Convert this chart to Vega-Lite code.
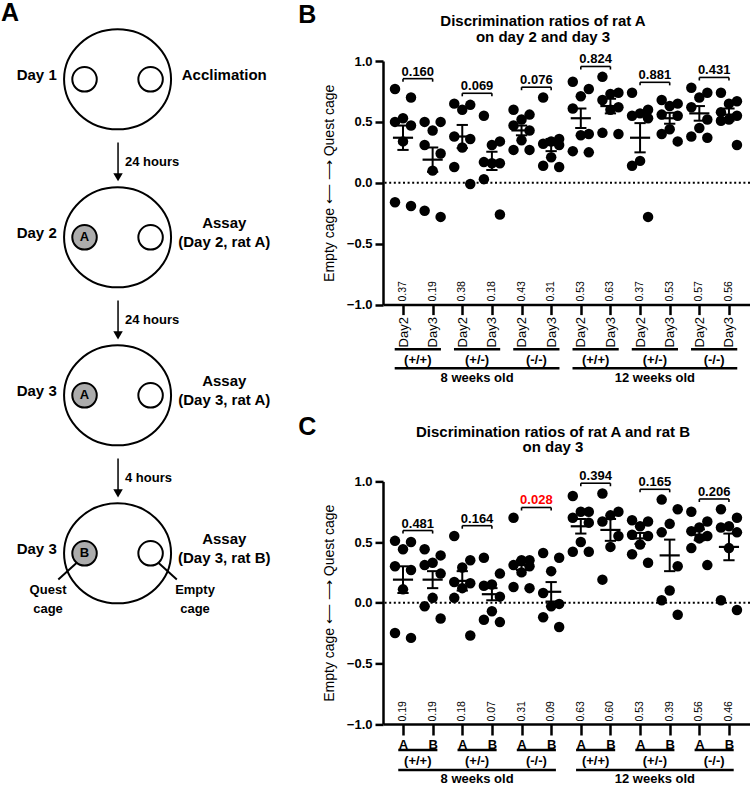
{
"$schema": "https://vega.github.io/schema/vega-lite/v6.json",
"padding": {"left": 0, "top": 1, "right": 0, "bottom": 0},
"config": {
  "font": "Liberation Sans",
  "view": {"stroke": null},
  "axis": {"domainColor": "#000", "tickColor": "#000", "labelColor": "#000", "titleColor": "#000", "grid": false, "labelOverlap": false},
  "title": {"color": "#000", "fontSize": 15, "fontWeight": "bold", "lineHeight": 16.5, "anchor": "middle"}
},
"datasets": {
  "stages": [
    {"stage": 1, "day": "Day 1", "step": "Acclimation", "rat": ""},
    {"stage": 2, "day": "Day 2", "step": "Assay\n(Day 2, rat A)", "rat": "A"},
    {"stage": 3, "day": "Day 3", "step": "Assay\n(Day 3, rat A)", "rat": "A"},
    {"stage": 4, "day": "Day 3", "step": "Assay\n(Day 3, rat B)", "rat": "B"}
  ],
  "intervals": [
    {"after": 1, "gap": "24 hours"},
    {"after": 2, "gap": "24 hours"},
    {"after": 3, "gap": "4 hours"}
  ],
  "cages": [
    {"stage": 4, "side": -1, "cage": "Quest\ncage"},
    {"stage": 4, "side": 1, "cage": "Empty\ncage"}
  ],
  "summ": [
    {"panel":"B","age":"8 weeks old","geno":"(+/+)","sub":"Day2","mean":0.37,"sem":0.10},
    {"panel":"B","age":"8 weeks old","geno":"(+/+)","sub":"Day3","mean":0.19,"sem":0.10},
    {"panel":"B","age":"8 weeks old","geno":"(+/-)","sub":"Day2","mean":0.38,"sem":0.095},
    {"panel":"B","age":"8 weeks old","geno":"(+/-)","sub":"Day3","mean":0.18,"sem":0.075},
    {"panel":"B","age":"8 weeks old","geno":"(-/-)","sub":"Day2","mean":0.43,"sem":0.04},
    {"panel":"B","age":"8 weeks old","geno":"(-/-)","sub":"Day3","mean":0.31,"sem":0.05},
    {"panel":"B","age":"12 weeks old","geno":"(+/+)","sub":"Day2","mean":0.53,"sem":0.08},
    {"panel":"B","age":"12 weeks old","geno":"(+/+)","sub":"Day3","mean":0.63,"sem":0.06},
    {"panel":"B","age":"12 weeks old","geno":"(+/-)","sub":"Day2","mean":0.37,"sem":0.12},
    {"panel":"B","age":"12 weeks old","geno":"(+/-)","sub":"Day3","mean":0.53,"sem":0.045},
    {"panel":"B","age":"12 weeks old","geno":"(-/-)","sub":"Day2","mean":0.57,"sem":0.06},
    {"panel":"B","age":"12 weeks old","geno":"(-/-)","sub":"Day3","mean":0.56,"sem":0.05},
    {"panel":"C","age":"8 weeks old","geno":"(+/+)","sub":"A","mean":0.19,"sem":0.11},
    {"panel":"C","age":"8 weeks old","geno":"(+/+)","sub":"B","mean":0.19,"sem":0.07},
    {"panel":"C","age":"8 weeks old","geno":"(+/-)","sub":"A","mean":0.18,"sem":0.08},
    {"panel":"C","age":"8 weeks old","geno":"(+/-)","sub":"B","mean":0.07,"sem":0.05},
    {"panel":"C","age":"8 weeks old","geno":"(-/-)","sub":"A","mean":0.31,"sem":0.04},
    {"panel":"C","age":"8 weeks old","geno":"(-/-)","sub":"B","mean":0.09,"sem":0.08},
    {"panel":"C","age":"12 weeks old","geno":"(+/+)","sub":"A","mean":0.63,"sem":0.06},
    {"panel":"C","age":"12 weeks old","geno":"(+/+)","sub":"B","mean":0.60,"sem":0.09},
    {"panel":"C","age":"12 weeks old","geno":"(+/-)","sub":"A","mean":0.53,"sem":0.045},
    {"panel":"C","age":"12 weeks old","geno":"(+/-)","sub":"B","mean":0.39,"sem":0.13},
    {"panel":"C","age":"12 weeks old","geno":"(-/-)","sub":"A","mean":0.56,"sem":0.045},
    {"panel":"C","age":"12 weeks old","geno":"(-/-)","sub":"B","mean":0.46,"sem":0.11}
  ],
  "obs": [
    {"panel":"B","age":"8 weeks old","geno":"(+/+)","p":0.160},
    {"panel":"B","age":"8 weeks old","geno":"(+/-)","p":0.069},
    {"panel":"B","age":"8 weeks old","geno":"(-/-)","p":0.076},
    {"panel":"B","age":"12 weeks old","geno":"(+/+)","p":0.824},
    {"panel":"B","age":"12 weeks old","geno":"(+/-)","p":0.881},
    {"panel":"B","age":"12 weeks old","geno":"(-/-)","p":0.431},
    {"panel":"C","age":"8 weeks old","geno":"(+/+)","p":0.481},
    {"panel":"C","age":"8 weeks old","geno":"(+/-)","p":0.164},
    {"panel":"C","age":"8 weeks old","geno":"(-/-)","p":0.028},
    {"panel":"C","age":"12 weeks old","geno":"(+/+)","p":0.394},
    {"panel":"C","age":"12 weeks old","geno":"(+/-)","p":0.165},
    {"panel":"C","age":"12 weeks old","geno":"(-/-)","p":0.206},
    {"panel":"B","age":"8 weeks old","geno":"(+/+)","sub":"Day2","v":0.77},
    {"panel":"B","age":"8 weeks old","geno":"(+/+)","sub":"Day2","v":0.70},
    {"panel":"B","age":"8 weeks old","geno":"(+/+)","sub":"Day2","v":0.53},
    {"panel":"B","age":"8 weeks old","geno":"(+/+)","sub":"Day2","v":0.50},
    {"panel":"B","age":"8 weeks old","geno":"(+/+)","sub":"Day2","v":0.47},
    {"panel":"B","age":"8 weeks old","geno":"(+/+)","sub":"Day2","v":0.34},
    {"panel":"B","age":"8 weeks old","geno":"(+/+)","sub":"Day2","v":-0.16},
    {"panel":"B","age":"8 weeks old","geno":"(+/+)","sub":"Day2","v":-0.19},
    {"panel":"B","age":"8 weeks old","geno":"(+/+)","sub":"Day3","v":0.50},
    {"panel":"B","age":"8 weeks old","geno":"(+/+)","sub":"Day3","v":0.50},
    {"panel":"B","age":"8 weeks old","geno":"(+/+)","sub":"Day3","v":0.43},
    {"panel":"B","age":"8 weeks old","geno":"(+/+)","sub":"Day3","v":0.31},
    {"panel":"B","age":"8 weeks old","geno":"(+/+)","sub":"Day3","v":0.24},
    {"panel":"B","age":"8 weeks old","geno":"(+/+)","sub":"Day3","v":0.10},
    {"panel":"B","age":"8 weeks old","geno":"(+/+)","sub":"Day3","v":-0.23},
    {"panel":"B","age":"8 weeks old","geno":"(+/+)","sub":"Day3","v":-0.28},
    {"panel":"B","age":"8 weeks old","geno":"(+/-)","sub":"Day2","v":0.65},
    {"panel":"B","age":"8 weeks old","geno":"(+/-)","sub":"Day2","v":0.64},
    {"panel":"B","age":"8 weeks old","geno":"(+/-)","sub":"Day2","v":0.60},
    {"panel":"B","age":"8 weeks old","geno":"(+/-)","sub":"Day2","v":0.38},
    {"panel":"B","age":"8 weeks old","geno":"(+/-)","sub":"Day2","v":0.36},
    {"panel":"B","age":"8 weeks old","geno":"(+/-)","sub":"Day2","v":0.29},
    {"panel":"B","age":"8 weeks old","geno":"(+/-)","sub":"Day2","v":0.13},
    {"panel":"B","age":"8 weeks old","geno":"(+/-)","sub":"Day2","v":-0.01},
    {"panel":"B","age":"8 weeks old","geno":"(+/-)","sub":"Day3","v":0.55},
    {"panel":"B","age":"8 weeks old","geno":"(+/-)","sub":"Day3","v":0.34},
    {"panel":"B","age":"8 weeks old","geno":"(+/-)","sub":"Day3","v":0.31},
    {"panel":"B","age":"8 weeks old","geno":"(+/-)","sub":"Day3","v":0.17},
    {"panel":"B","age":"8 weeks old","geno":"(+/-)","sub":"Day3","v":0.16},
    {"panel":"B","age":"8 weeks old","geno":"(+/-)","sub":"Day3","v":0.16},
    {"panel":"B","age":"8 weeks old","geno":"(+/-)","sub":"Day3","v":0.03},
    {"panel":"B","age":"8 weeks old","geno":"(+/-)","sub":"Day3","v":-0.26},
    {"panel":"B","age":"8 weeks old","geno":"(-/-)","sub":"Day2","v":0.60},
    {"panel":"B","age":"8 weeks old","geno":"(-/-)","sub":"Day2","v":0.56},
    {"panel":"B","age":"8 weeks old","geno":"(-/-)","sub":"Day2","v":0.52},
    {"panel":"B","age":"8 weeks old","geno":"(-/-)","sub":"Day2","v":0.47},
    {"panel":"B","age":"8 weeks old","geno":"(-/-)","sub":"Day2","v":0.43},
    {"panel":"B","age":"8 weeks old","geno":"(-/-)","sub":"Day2","v":0.35},
    {"panel":"B","age":"8 weeks old","geno":"(-/-)","sub":"Day2","v":0.27},
    {"panel":"B","age":"8 weeks old","geno":"(-/-)","sub":"Day2","v":0.27},
    {"panel":"B","age":"8 weeks old","geno":"(-/-)","sub":"Day3","v":0.70},
    {"panel":"B","age":"8 weeks old","geno":"(-/-)","sub":"Day3","v":0.36},
    {"panel":"B","age":"8 weeks old","geno":"(-/-)","sub":"Day3","v":0.34},
    {"panel":"B","age":"8 weeks old","geno":"(-/-)","sub":"Day3","v":0.32},
    {"panel":"B","age":"8 weeks old","geno":"(-/-)","sub":"Day3","v":0.31},
    {"panel":"B","age":"8 weeks old","geno":"(-/-)","sub":"Day3","v":0.21},
    {"panel":"B","age":"8 weeks old","geno":"(-/-)","sub":"Day3","v":0.14},
    {"panel":"B","age":"8 weeks old","geno":"(-/-)","sub":"Day3","v":0.13},
    {"panel":"B","age":"12 weeks old","geno":"(+/+)","sub":"Day2","v":0.83},
    {"panel":"B","age":"12 weeks old","geno":"(+/+)","sub":"Day2","v":0.77},
    {"panel":"B","age":"12 weeks old","geno":"(+/+)","sub":"Day2","v":0.71},
    {"panel":"B","age":"12 weeks old","geno":"(+/+)","sub":"Day2","v":0.61},
    {"panel":"B","age":"12 weeks old","geno":"(+/+)","sub":"Day2","v":0.40},
    {"panel":"B","age":"12 weeks old","geno":"(+/+)","sub":"Day2","v":0.39},
    {"panel":"B","age":"12 weeks old","geno":"(+/+)","sub":"Day2","v":0.26},
    {"panel":"B","age":"12 weeks old","geno":"(+/+)","sub":"Day2","v":0.25},
    {"panel":"B","age":"12 weeks old","geno":"(+/+)","sub":"Day3","v":0.87},
    {"panel":"B","age":"12 weeks old","geno":"(+/+)","sub":"Day3","v":0.74},
    {"panel":"B","age":"12 weeks old","geno":"(+/+)","sub":"Day3","v":0.73},
    {"panel":"B","age":"12 weeks old","geno":"(+/+)","sub":"Day3","v":0.68},
    {"panel":"B","age":"12 weeks old","geno":"(+/+)","sub":"Day3","v":0.62},
    {"panel":"B","age":"12 weeks old","geno":"(+/+)","sub":"Day3","v":0.60},
    {"panel":"B","age":"12 weeks old","geno":"(+/+)","sub":"Day3","v":0.41},
    {"panel":"B","age":"12 weeks old","geno":"(+/+)","sub":"Day3","v":0.40},
    {"panel":"B","age":"12 weeks old","geno":"(+/-)","sub":"Day2","v":0.74},
    {"panel":"B","age":"12 weeks old","geno":"(+/-)","sub":"Day2","v":0.60},
    {"panel":"B","age":"12 weeks old","geno":"(+/-)","sub":"Day2","v":0.57},
    {"panel":"B","age":"12 weeks old","geno":"(+/-)","sub":"Day2","v":0.55},
    {"panel":"B","age":"12 weeks old","geno":"(+/-)","sub":"Day2","v":0.53},
    {"panel":"B","age":"12 weeks old","geno":"(+/-)","sub":"Day2","v":0.18},
    {"panel":"B","age":"12 weeks old","geno":"(+/-)","sub":"Day2","v":0.14},
    {"panel":"B","age":"12 weeks old","geno":"(+/-)","sub":"Day2","v":-0.28},
    {"panel":"B","age":"12 weeks old","geno":"(+/-)","sub":"Day3","v":0.68},
    {"panel":"B","age":"12 weeks old","geno":"(+/-)","sub":"Day3","v":0.65},
    {"panel":"B","age":"12 weeks old","geno":"(+/-)","sub":"Day3","v":0.63},
    {"panel":"B","age":"12 weeks old","geno":"(+/-)","sub":"Day3","v":0.56},
    {"panel":"B","age":"12 weeks old","geno":"(+/-)","sub":"Day3","v":0.55},
    {"panel":"B","age":"12 weeks old","geno":"(+/-)","sub":"Day3","v":0.44},
    {"panel":"B","age":"12 weeks old","geno":"(+/-)","sub":"Day3","v":0.40},
    {"panel":"B","age":"12 weeks old","geno":"(+/-)","sub":"Day3","v":0.34},
    {"panel":"B","age":"12 weeks old","geno":"(-/-)","sub":"Day2","v":0.78},
    {"panel":"B","age":"12 weeks old","geno":"(-/-)","sub":"Day2","v":0.74},
    {"panel":"B","age":"12 weeks old","geno":"(-/-)","sub":"Day2","v":0.70},
    {"panel":"B","age":"12 weeks old","geno":"(-/-)","sub":"Day2","v":0.62},
    {"panel":"B","age":"12 weeks old","geno":"(-/-)","sub":"Day2","v":0.52},
    {"panel":"B","age":"12 weeks old","geno":"(-/-)","sub":"Day2","v":0.45},
    {"panel":"B","age":"12 weeks old","geno":"(-/-)","sub":"Day2","v":0.38},
    {"panel":"B","age":"12 weeks old","geno":"(-/-)","sub":"Day2","v":0.37},
    {"panel":"B","age":"12 weeks old","geno":"(-/-)","sub":"Day3","v":0.74},
    {"panel":"B","age":"12 weeks old","geno":"(-/-)","sub":"Day3","v":0.67},
    {"panel":"B","age":"12 weeks old","geno":"(-/-)","sub":"Day3","v":0.65},
    {"panel":"B","age":"12 weeks old","geno":"(-/-)","sub":"Day3","v":0.58},
    {"panel":"B","age":"12 weeks old","geno":"(-/-)","sub":"Day3","v":0.55},
    {"panel":"B","age":"12 weeks old","geno":"(-/-)","sub":"Day3","v":0.52},
    {"panel":"B","age":"12 weeks old","geno":"(-/-)","sub":"Day3","v":0.51},
    {"panel":"B","age":"12 weeks old","geno":"(-/-)","sub":"Day3","v":0.31},
    {"panel":"C","age":"8 weeks old","geno":"(+/+)","sub":"A","v":0.51},
    {"panel":"C","age":"8 weeks old","geno":"(+/+)","sub":"A","v":0.50},
    {"panel":"C","age":"8 weeks old","geno":"(+/+)","sub":"A","v":0.44},
    {"panel":"C","age":"8 weeks old","geno":"(+/+)","sub":"A","v":0.30},
    {"panel":"C","age":"8 weeks old","geno":"(+/+)","sub":"A","v":0.27},
    {"panel":"C","age":"8 weeks old","geno":"(+/+)","sub":"A","v":0.11},
    {"panel":"C","age":"8 weeks old","geno":"(+/+)","sub":"A","v":-0.25},
    {"panel":"C","age":"8 weeks old","geno":"(+/+)","sub":"A","v":-0.29},
    {"panel":"C","age":"8 weeks old","geno":"(+/+)","sub":"B","v":0.44},
    {"panel":"C","age":"8 weeks old","geno":"(+/+)","sub":"B","v":0.39},
    {"panel":"C","age":"8 weeks old","geno":"(+/+)","sub":"B","v":0.33},
    {"panel":"C","age":"8 weeks old","geno":"(+/+)","sub":"B","v":0.31},
    {"panel":"C","age":"8 weeks old","geno":"(+/+)","sub":"B","v":0.24},
    {"panel":"C","age":"8 weeks old","geno":"(+/+)","sub":"B","v":0.04},
    {"panel":"C","age":"8 weeks old","geno":"(+/+)","sub":"B","v":-0.03},
    {"panel":"C","age":"8 weeks old","geno":"(+/+)","sub":"B","v":-0.13},
    {"panel":"C","age":"8 weeks old","geno":"(+/-)","sub":"A","v":0.55},
    {"panel":"C","age":"8 weeks old","geno":"(+/-)","sub":"A","v":0.35},
    {"panel":"C","age":"8 weeks old","geno":"(+/-)","sub":"A","v":0.29},
    {"panel":"C","age":"8 weeks old","geno":"(+/-)","sub":"A","v":0.17},
    {"panel":"C","age":"8 weeks old","geno":"(+/-)","sub":"A","v":0.16},
    {"panel":"C","age":"8 weeks old","geno":"(+/-)","sub":"A","v":0.12},
    {"panel":"C","age":"8 weeks old","geno":"(+/-)","sub":"A","v":0.04},
    {"panel":"C","age":"8 weeks old","geno":"(+/-)","sub":"A","v":-0.27},
    {"panel":"C","age":"8 weeks old","geno":"(+/-)","sub":"B","v":0.37},
    {"panel":"C","age":"8 weeks old","geno":"(+/-)","sub":"B","v":0.24},
    {"panel":"C","age":"8 weeks old","geno":"(+/-)","sub":"B","v":0.15},
    {"panel":"C","age":"8 weeks old","geno":"(+/-)","sub":"B","v":0.14},
    {"panel":"C","age":"8 weeks old","geno":"(+/-)","sub":"B","v":0.05},
    {"panel":"C","age":"8 weeks old","geno":"(+/-)","sub":"B","v":-0.07},
    {"panel":"C","age":"8 weeks old","geno":"(+/-)","sub":"B","v":-0.14},
    {"panel":"C","age":"8 weeks old","geno":"(+/-)","sub":"B","v":-0.16},
    {"panel":"C","age":"8 weeks old","geno":"(-/-)","sub":"A","v":0.70},
    {"panel":"C","age":"8 weeks old","geno":"(-/-)","sub":"A","v":0.35},
    {"panel":"C","age":"8 weeks old","geno":"(-/-)","sub":"A","v":0.35},
    {"panel":"C","age":"8 weeks old","geno":"(-/-)","sub":"A","v":0.31},
    {"panel":"C","age":"8 weeks old","geno":"(-/-)","sub":"A","v":0.30},
    {"panel":"C","age":"8 weeks old","geno":"(-/-)","sub":"A","v":0.25},
    {"panel":"C","age":"8 weeks old","geno":"(-/-)","sub":"A","v":0.13},
    {"panel":"C","age":"8 weeks old","geno":"(-/-)","sub":"A","v":0.12},
    {"panel":"C","age":"8 weeks old","geno":"(-/-)","sub":"B","v":0.41},
    {"panel":"C","age":"8 weeks old","geno":"(-/-)","sub":"B","v":0.37},
    {"panel":"C","age":"8 weeks old","geno":"(-/-)","sub":"B","v":0.26},
    {"panel":"C","age":"8 weeks old","geno":"(-/-)","sub":"B","v":0.08},
    {"panel":"C","age":"8 weeks old","geno":"(-/-)","sub":"B","v":-0.01},
    {"panel":"C","age":"8 weeks old","geno":"(-/-)","sub":"B","v":-0.03},
    {"panel":"C","age":"8 weeks old","geno":"(-/-)","sub":"B","v":-0.12},
    {"panel":"C","age":"8 weeks old","geno":"(-/-)","sub":"B","v":-0.20},
    {"panel":"C","age":"12 weeks old","geno":"(+/+)","sub":"A","v":0.88},
    {"panel":"C","age":"12 weeks old","geno":"(+/+)","sub":"A","v":0.75},
    {"panel":"C","age":"12 weeks old","geno":"(+/+)","sub":"A","v":0.75},
    {"panel":"C","age":"12 weeks old","geno":"(+/+)","sub":"A","v":0.70},
    {"panel":"C","age":"12 weeks old","geno":"(+/+)","sub":"A","v":0.66},
    {"panel":"C","age":"12 weeks old","geno":"(+/+)","sub":"A","v":0.50},
    {"panel":"C","age":"12 weeks old","geno":"(+/+)","sub":"A","v":0.42},
    {"panel":"C","age":"12 weeks old","geno":"(+/+)","sub":"A","v":0.42},
    {"panel":"C","age":"12 weeks old","geno":"(+/+)","sub":"B","v":0.90},
    {"panel":"C","age":"12 weeks old","geno":"(+/+)","sub":"B","v":0.75},
    {"panel":"C","age":"12 weeks old","geno":"(+/+)","sub":"B","v":0.72},
    {"panel":"C","age":"12 weeks old","geno":"(+/+)","sub":"B","v":0.67},
    {"panel":"C","age":"12 weeks old","geno":"(+/+)","sub":"B","v":0.55},
    {"panel":"C","age":"12 weeks old","geno":"(+/+)","sub":"B","v":0.46},
    {"panel":"C","age":"12 weeks old","geno":"(+/+)","sub":"B","v":0.19},
    {"panel":"C","age":"12 weeks old","geno":"(+/-)","sub":"A","v":0.68},
    {"panel":"C","age":"12 weeks old","geno":"(+/-)","sub":"A","v":0.67},
    {"panel":"C","age":"12 weeks old","geno":"(+/-)","sub":"A","v":0.63},
    {"panel":"C","age":"12 weeks old","geno":"(+/-)","sub":"A","v":0.56},
    {"panel":"C","age":"12 weeks old","geno":"(+/-)","sub":"A","v":0.55},
    {"panel":"C","age":"12 weeks old","geno":"(+/-)","sub":"A","v":0.48},
    {"panel":"C","age":"12 weeks old","geno":"(+/-)","sub":"A","v":0.40},
    {"panel":"C","age":"12 weeks old","geno":"(+/-)","sub":"A","v":0.33},
    {"panel":"C","age":"12 weeks old","geno":"(+/-)","sub":"B","v":0.85},
    {"panel":"C","age":"12 weeks old","geno":"(+/-)","sub":"B","v":0.77},
    {"panel":"C","age":"12 weeks old","geno":"(+/-)","sub":"B","v":0.65},
    {"panel":"C","age":"12 weeks old","geno":"(+/-)","sub":"B","v":0.58},
    {"panel":"C","age":"12 weeks old","geno":"(+/-)","sub":"B","v":0.30},
    {"panel":"C","age":"12 weeks old","geno":"(+/-)","sub":"B","v":0.10},
    {"panel":"C","age":"12 weeks old","geno":"(+/-)","sub":"B","v":0.02},
    {"panel":"C","age":"12 weeks old","geno":"(+/-)","sub":"B","v":-0.10},
    {"panel":"C","age":"12 weeks old","geno":"(-/-)","sub":"A","v":0.75},
    {"panel":"C","age":"12 weeks old","geno":"(-/-)","sub":"A","v":0.67},
    {"panel":"C","age":"12 weeks old","geno":"(-/-)","sub":"A","v":0.62},
    {"panel":"C","age":"12 weeks old","geno":"(-/-)","sub":"A","v":0.59},
    {"panel":"C","age":"12 weeks old","geno":"(-/-)","sub":"A","v":0.55},
    {"panel":"C","age":"12 weeks old","geno":"(-/-)","sub":"A","v":0.53},
    {"panel":"C","age":"12 weeks old","geno":"(-/-)","sub":"A","v":0.45},
    {"panel":"C","age":"12 weeks old","geno":"(-/-)","sub":"A","v":0.31},
    {"panel":"C","age":"12 weeks old","geno":"(-/-)","sub":"B","v":0.77},
    {"panel":"C","age":"12 weeks old","geno":"(-/-)","sub":"B","v":0.70},
    {"panel":"C","age":"12 weeks old","geno":"(-/-)","sub":"B","v":0.63},
    {"panel":"C","age":"12 weeks old","geno":"(-/-)","sub":"B","v":0.62},
    {"panel":"C","age":"12 weeks old","geno":"(-/-)","sub":"B","v":0.58},
    {"panel":"C","age":"12 weeks old","geno":"(-/-)","sub":"B","v":0.45},
    {"panel":"C","age":"12 weeks old","geno":"(-/-)","sub":"B","v":0.02},
    {"panel":"C","age":"12 weeks old","geno":"(-/-)","sub":"B","v":-0.06}
  ]
},
"bounds": "flush",
"spacing": 103,
"hconcat": [
  {
    "width": 280, "height": 662.6,
    "layer": [
      {"data": {"name": "stages"},
       "mark": {"type": "point", "shape": "M-1,0A1,0.935,0,1,1,1,0A1,0.935,0,1,1,-1,0Z", "size": 11449, "filled": true, "fill": "#fff", "stroke": "#000", "strokeWidth": 2, "opacity": 1},
       "encoding": {
         "x": {"datum": 0, "type": "quantitative", "scale": {"domain": [-0.744, 1.028], "nice": false, "zero": false}, "axis": null},
         "y": {"field": "stage", "type": "quantitative", "scale": {"domain": [0.8842, 5.0777], "reverse": true, "nice": false, "zero": false}, "axis": null}
       }},
      {"data": {"name": "stages"},
       "mark": {"type": "point", "shape": "circle", "size": 600, "filled": true, "fill": "#fff", "stroke": "#000", "strokeWidth": 2, "opacity": 1},
       "encoding": {
         "x": {"datum": 0.209, "type": "quantitative"},
         "y": {"field": "stage", "type": "quantitative"}
       }},
      {"data": {"name": "stages"},
       "mark": {"type": "point", "shape": "circle", "size": 600, "filled": true, "stroke": "#000", "strokeWidth": 2, "opacity": 1},
       "encoding": {
         "x": {"datum": -0.209, "type": "quantitative"},
         "y": {"field": "stage", "type": "quantitative"},
         "fill": {"condition": {"test": "datum.rat != ''", "value": "#acacac"}, "value": "#fff"}
       }},
      {"data": {"name": "stages"},
       "mark": {"type": "text", "fontSize": 13, "fontWeight": "bold", "align": "center", "baseline": "middle", "color": "#000"},
       "encoding": {
         "x": {"datum": -0.209, "type": "quantitative"},
         "y": {"field": "stage", "type": "quantitative"},
         "text": {"field": "rat"}
       }},
      {"data": {"name": "stages"},
       "mark": {"type": "text", "fontSize": 15, "fontWeight": "bold", "align": "right", "baseline": "middle", "dy": -4, "color": "#000"},
       "encoding": {
         "x": {"datum": -0.385, "type": "quantitative"},
         "y": {"field": "stage", "type": "quantitative"},
         "text": {"field": "day"}
       }},
      {"data": {"name": "stages"},
       "transform": [
         {"calculate": "datum.stage + (indexof(datum.step, '\\n') >= 0 ? -0.0886 : -0.025)", "as": "sy"}
       ],
       "mark": {"type": "text", "fontSize": 15, "fontWeight": "bold", "align": "center", "baseline": "middle", "lineBreak": "\n", "lineHeight": 18.5, "color": "#000"},
       "encoding": {
         "x": {"datum": 0.675, "type": "quantitative"},
         "y": {"field": "sy", "type": "quantitative"},
         "text": {"field": "step"}
       }},
      {"data": {"name": "intervals"},
       "transform": [
         {"calculate": "datum.after + 0.40", "as": "ya"},
         {"calculate": "datum.after + 0.60", "as": "yb"},
         {"calculate": "datum.after + 0.62", "as": "yh"},
         {"calculate": "datum.after + 0.525", "as": "yl"}
       ],
       "layer": [
         {"mark": {"type": "rule", "strokeWidth": 1.5, "color": "#000"},
          "encoding": {"x": {"datum": 0.003, "type": "quantitative"}, "y": {"field": "ya", "type": "quantitative"}, "y2": {"field": "yb"}}},
         {"mark": {"type": "point", "shape": "triangle-down", "size": 90, "filled": true, "color": "#000", "opacity": 1},
          "encoding": {"x": {"datum": 0.003, "type": "quantitative"}, "y": {"field": "yh", "type": "quantitative"}}},
         {"mark": {"type": "text", "fontSize": 13, "fontWeight": "bold", "align": "left", "baseline": "middle", "color": "#000"},
          "encoding": {"x": {"datum": 0.047, "type": "quantitative"}, "y": {"field": "yl", "type": "quantitative"}, "text": {"field": "gap"}}}
       ]},
      {"data": {"name": "cages"},
       "transform": [
         {"calculate": "datum.side * 0.26", "as": "cx1"},
         {"calculate": "datum.side * 0.375", "as": "cx2"},
         {"calculate": "datum.stage + 0.062", "as": "cy1"},
         {"calculate": "datum.stage + 0.165", "as": "cy2"},
         {"calculate": "datum.side * 0.465 + 0.025", "as": "lx"},
         {"calculate": "datum.stage + 0.234", "as": "ly"}
       ],
       "layer": [
         {"mark": {"type": "rule", "strokeWidth": 2, "color": "#000"},
          "encoding": {"x": {"field": "cx1", "type": "quantitative"}, "x2": {"field": "cx2"}, "y": {"field": "cy1", "type": "quantitative"}, "y2": {"field": "cy2"}}},
         {"mark": {"type": "text", "fontSize": 13, "fontWeight": "bold", "align": "center", "baseline": "middle", "lineBreak": "\n", "lineHeight": 19, "color": "#000"},
          "encoding": {"x": {"field": "lx", "type": "quantitative"}, "y": {"field": "ly", "type": "quantitative"}, "text": {"field": "cage"}}}
       ]},
      {"data": {"values": [{"letter": "A"}]},
       "mark": {"type": "text", "fontSize": 25, "fontWeight": "bold", "align": "center", "baseline": "middle", "color": "#000"},
       "encoding": {"x": {"datum": -0.68, "type": "quantitative"}, "y": {"datum": 0.582, "type": "quantitative"}, "text": {"field": "letter"}}},
      {"data": {"values": [{"letter": "B"}]},
       "mark": {"type": "text", "fontSize": 25, "fontWeight": "bold", "align": "center", "baseline": "middle", "color": "#000"},
       "encoding": {"x": {"datum": 1.2, "type": "quantitative"}, "y": {"datum": 0.59, "type": "quantitative"}, "text": {"field": "letter"}}},
      {"data": {"values": [{"letter": "C"}]},
       "mark": {"type": "text", "fontSize": 25, "fontWeight": "bold", "align": "center", "baseline": "middle", "color": "#000"},
       "encoding": {"x": {"datum": 1.2, "type": "quantitative"}, "y": {"datum": 3.2, "type": "quantitative"}, "text": {"field": "letter"}}}
    ]
  },
  {
    "bounds": "flush",
    "spacing": 176.4,
    "vconcat": [
      {
        "width": 367, "height": 243.6,
        "title": {"text": ["Discrimination ratios of rat A", "on day 2 and day 3"], "dx": -23.5, "offset": 8},
        "layer": [
          {"data": {"values": [{"ref": 0}]},
           "mark": {"type": "rule", "strokeDash": [2, 2.6], "strokeWidth": 2, "color": "#000"},
           "encoding": {"y": {"field": "ref", "type": "quantitative", "scale": {"domain": [-1, 1], "nice": false, "zero": false},
             "axis": {"values": [-1, -0.5, 0, 0.5, 1], "format": ".1f", "labelFontSize": 13, "labelFontWeight": "bold", "tickSize": 8, "tickWidth": 2.5, "domainWidth": 2.5, "labelPadding": 3, "title": "Empty cage ⟵  ⟶ Quest cage", "titleFontSize": 14, "titleFontWeight": "normal", "titlePadding": 10}}}},
          {"data": {"name": "obs"},
           "transform": [
             {"filter": "datum.panel == 'B' && isValid(datum.v)"},
             {"calculate": "indexof(['8 weeks old','12 weeks old'], datum.age) * 6 + indexof(['(+/+)','(+/-)','(-/-)'], datum.geno) * 2 + (datum.sub == 'Day3' || datum.sub == 'B' ? 2 : 1)", "as": "slot"},
             {"window": [{"op": "row_number", "as": "rn"}], "sort": [{"field": "v", "order": "descending"}], "groupby": ["age", "geno", "sub"]},
             {"calculate": "datum.slot + (datum.rn % 3 == 1 ? -0.27 : datum.rn % 3 == 2 ? 0.27 : 0)", "as": "xj"}
           ],
           "mark": {"type": "point", "shape": "circle", "filled": true, "size": 110, "color": "#000", "opacity": 1},
           "encoding": {
             "x": {"field": "xj", "type": "quantitative", "scale": {"domain": [0.325, 12.71], "nice": false, "zero": false},
               "axis": {"values": [1,2,3,4,5,6,7,8,9,10,11,12], "tickCount": 24, "labelExpr": "datum.value % 2 == 1 ? 'Day2' : 'Day3'", "labelAngle": -90, "labelFontSize": 13, "labelOverlap": false, "labelFlush": false, "tickSize": 10, "tickWidth": 2.5, "domainWidth": 2.5, "labelPadding": 2, "title": null}},
             "y": {"field": "v", "type": "quantitative"}
           }},
          {"data": {"name": "summ"},
           "transform": [
             {"filter": "datum.panel == 'B'"},
             {"calculate": "indexof(['8 weeks old','12 weeks old'], datum.age) * 6 + indexof(['(+/+)','(+/-)','(-/-)'], datum.geno) * 2 + (datum.sub == 'Day3' || datum.sub == 'B' ? 2 : 1)", "as": "slot"},
             {"calculate": "datum.mean - datum.sem", "as": "lo"},
             {"calculate": "datum.mean + datum.sem", "as": "hi"},
             {"calculate": "datum.slot - 0.34", "as": "ml"},
             {"calculate": "datum.slot + 0.34", "as": "mr"},
             {"calculate": "datum.slot - 0.19", "as": "cl"},
             {"calculate": "datum.slot + 0.19", "as": "cr"}
           ],
           "layer": [
             {"mark": {"type": "rule", "strokeWidth": 2, "color": "#000"},
              "encoding": {"x": {"field": "slot", "type": "quantitative"}, "y": {"field": "lo", "type": "quantitative"}, "y2": {"field": "hi"}}},
             {"mark": {"type": "rule", "strokeWidth": 2.2, "color": "#000"},
              "encoding": {"x": {"field": "ml", "type": "quantitative"}, "x2": {"field": "mr"}, "y": {"field": "mean", "type": "quantitative"}}},
             {"mark": {"type": "rule", "strokeWidth": 2, "color": "#000"},
              "encoding": {"x": {"field": "cl", "type": "quantitative"}, "x2": {"field": "cr"}, "y": {"field": "hi", "type": "quantitative"}}},
             {"mark": {"type": "rule", "strokeWidth": 2, "color": "#000"},
              "encoding": {"x": {"field": "cl", "type": "quantitative"}, "x2": {"field": "cr"}, "y": {"field": "lo", "type": "quantitative"}}},
             {"mark": {"type": "text", "angle": 270, "align": "left", "baseline": "middle", "fontSize": 10.5, "color": "#000"},
              "encoding": {"x": {"field": "slot", "type": "quantitative"}, "y": {"datum": -0.975, "type": "quantitative"}, "text": {"field": "mean", "format": ".2f"}}}
           ]},
          {"data": {"name": "obs"},
           "transform": [
             {"filter": "datum.panel == 'B'"},
             {"joinaggregate": [{"op": "max", "field": "v", "as": "top"}], "groupby": ["age", "geno"]},
             {"filter": "isValid(datum.p)"},
             {"calculate": "indexof(['8 weeks old','12 weeks old'], datum.age) * 6 + indexof(['(+/+)','(+/-)','(-/-)'], datum.geno) * 2 + 1", "as": "s1"},
             {"calculate": "datum.s1 + 1", "as": "s2"},
             {"calculate": "datum.s1 + 0.5", "as": "sm"},
             {"calculate": "datum.top + 0.085", "as": "yb"},
             {"calculate": "datum.yb - 0.025", "as": "yt"}
           ],
           "layer": [
             {"mark": {"type": "rule", "strokeWidth": 1.6, "color": "#000"},
              "encoding": {"x": {"field": "s1", "type": "quantitative"}, "x2": {"field": "s2"}, "y": {"field": "yb", "type": "quantitative"}}},
             {"mark": {"type": "rule", "strokeWidth": 1.6, "color": "#000"},
              "encoding": {"x": {"field": "s1", "type": "quantitative"}, "y": {"field": "yb", "type": "quantitative"}, "y2": {"field": "yt"}}},
             {"mark": {"type": "rule", "strokeWidth": 1.6, "color": "#000"},
              "encoding": {"x": {"field": "s2", "type": "quantitative"}, "y": {"field": "yb", "type": "quantitative"}, "y2": {"field": "yt"}}},
             {"mark": {"type": "text", "fontSize": 13, "fontWeight": "bold", "align": "center", "baseline": "alphabetic", "dy": -3},
              "encoding": {"x": {"field": "sm", "type": "quantitative"}, "y": {"field": "yb", "type": "quantitative"}, "text": {"field": "p", "format": ".3f"},
                "color": {"condition": {"test": "datum.p < 0.05", "value": "#ff0000"}, "value": "#000"}}}
           ]},
          {"data": {"name": "summ"},
           "transform": [
             {"filter": "datum.panel == 'B'"},
             {"calculate": "indexof(['8 weeks old','12 weeks old'], datum.age) * 6 + indexof(['(+/+)','(+/-)','(-/-)'], datum.geno) * 2 + (datum.sub == 'Day3' || datum.sub == 'B' ? 2 : 1)", "as": "slot"},
             {"aggregate": [{"op": "min", "field": "slot", "as": "s0"}, {"op": "max", "field": "slot", "as": "s1"}], "groupby": ["age", "geno"]},
             {"calculate": "datum.s0 - 0.28", "as": "u0"},
             {"calculate": "datum.s1 + 0.28", "as": "u1"},
             {"calculate": "(datum.s0 + datum.s1) / 2", "as": "um"}
           ],
           "layer": [
             {"mark": {"type": "rule", "strokeWidth": 2.5, "color": "#000"},
              "encoding": {"x": {"field": "u0", "type": "quantitative"}, "x2": {"field": "u1"}, "y": {"datum": -1.367, "type": "quantitative"}}},
             {"mark": {"type": "text", "fontSize": 13, "fontWeight": "bold", "align": "center", "baseline": "middle", "color": "#000"},
              "encoding": {"x": {"field": "um", "type": "quantitative"}, "y": {"datum": -1.457, "type": "quantitative"}, "text": {"field": "geno"}}}
           ]},
          {"data": {"name": "summ"},
           "transform": [
             {"filter": "datum.panel == 'B'"},
             {"calculate": "indexof(['8 weeks old','12 weeks old'], datum.age) * 6 + indexof(['(+/+)','(+/-)','(-/-)'], datum.geno) * 2 + (datum.sub == 'Day3' || datum.sub == 'B' ? 2 : 1)", "as": "slot"},
             {"aggregate": [{"op": "min", "field": "slot", "as": "s0"}, {"op": "max", "field": "slot", "as": "s1"}], "groupby": ["age"]},
             {"calculate": "datum.s0 - 0.28", "as": "u0"},
             {"calculate": "datum.s1 + 0.28", "as": "u1"},
             {"calculate": "(datum.s0 + datum.s1) / 2", "as": "um"}
           ],
           "layer": [
             {"mark": {"type": "rule", "strokeWidth": 2.5, "color": "#000"},
              "encoding": {"x": {"field": "u0", "type": "quantitative"}, "x2": {"field": "u1"}, "y": {"datum": -1.523, "type": "quantitative"}}},
             {"mark": {"type": "text", "fontSize": 13, "fontWeight": "bold", "align": "center", "baseline": "middle", "color": "#000"},
              "encoding": {"x": {"field": "um", "type": "quantitative"}, "y": {"datum": -1.6, "type": "quantitative"}, "text": {"field": "age"}}}
           ]}
        ]
      },
      {
        "width": 367, "height": 242.6,
        "title": {"text": ["Discrimination ratios of rat A and rat B", "on day 3"], "dx": -13.5, "offset": 15, "lineHeight": 15.5},
        "layer": [
          {"data": {"values": [{"ref": 0}]},
           "mark": {"type": "rule", "strokeDash": [2, 2.6], "strokeWidth": 2, "color": "#000"},
           "encoding": {"y": {"field": "ref", "type": "quantitative", "scale": {"domain": [-1, 1], "nice": false, "zero": false},
             "axis": {"values": [-1, -0.5, 0, 0.5, 1], "format": ".1f", "labelFontSize": 13, "labelFontWeight": "bold", "tickSize": 8, "tickWidth": 2.5, "domainWidth": 2.5, "labelPadding": 3, "title": "Empty cage ⟵  ⟶ Quest cage", "titleFontSize": 14, "titleFontWeight": "normal", "titlePadding": 10}}}},
          {"data": {"name": "obs"},
           "transform": [
             {"filter": "datum.panel == 'C' && isValid(datum.v)"},
             {"calculate": "indexof(['8 weeks old','12 weeks old'], datum.age) * 6 + indexof(['(+/+)','(+/-)','(-/-)'], datum.geno) * 2 + (datum.sub == 'Day3' || datum.sub == 'B' ? 2 : 1)", "as": "slot"},
             {"window": [{"op": "row_number", "as": "rn"}], "sort": [{"field": "v", "order": "descending"}], "groupby": ["age", "geno", "sub"]},
             {"calculate": "datum.slot + (datum.rn % 3 == 1 ? -0.27 : datum.rn % 3 == 2 ? 0.27 : 0)", "as": "xj"}
           ],
           "mark": {"type": "point", "shape": "circle", "filled": true, "size": 110, "color": "#000", "opacity": 1},
           "encoding": {
             "x": {"field": "xj", "type": "quantitative", "scale": {"domain": [0.325, 12.71], "nice": false, "zero": false},
               "axis": {"values": [1,2,3,4,5,6,7,8,9,10,11,12], "tickCount": 24, "labelExpr": "datum.value % 2 == 1 ? 'A' : 'B'", "labelAngle": 0, "labelFontSize": 13, "labelFontWeight": "bold", "labelOverlap": false, "labelFlush": false, "tickSize": 11, "tickWidth": 2.5, "domainWidth": 2.5, "labelPadding": 3, "title": null}},
             "y": {"field": "v", "type": "quantitative"}
           }},
          {"data": {"name": "summ"},
           "transform": [
             {"filter": "datum.panel == 'C'"},
             {"calculate": "indexof(['8 weeks old','12 weeks old'], datum.age) * 6 + indexof(['(+/+)','(+/-)','(-/-)'], datum.geno) * 2 + (datum.sub == 'Day3' || datum.sub == 'B' ? 2 : 1)", "as": "slot"},
             {"calculate": "datum.mean - datum.sem", "as": "lo"},
             {"calculate": "datum.mean + datum.sem", "as": "hi"},
             {"calculate": "datum.slot - 0.34", "as": "ml"},
             {"calculate": "datum.slot + 0.34", "as": "mr"},
             {"calculate": "datum.slot - 0.19", "as": "cl"},
             {"calculate": "datum.slot + 0.19", "as": "cr"}
           ],
           "layer": [
             {"mark": {"type": "rule", "strokeWidth": 2, "color": "#000"},
              "encoding": {"x": {"field": "slot", "type": "quantitative"}, "y": {"field": "lo", "type": "quantitative"}, "y2": {"field": "hi"}}},
             {"mark": {"type": "rule", "strokeWidth": 2.2, "color": "#000"},
              "encoding": {"x": {"field": "ml", "type": "quantitative"}, "x2": {"field": "mr"}, "y": {"field": "mean", "type": "quantitative"}}},
             {"mark": {"type": "rule", "strokeWidth": 2, "color": "#000"},
              "encoding": {"x": {"field": "cl", "type": "quantitative"}, "x2": {"field": "cr"}, "y": {"field": "hi", "type": "quantitative"}}},
             {"mark": {"type": "rule", "strokeWidth": 2, "color": "#000"},
              "encoding": {"x": {"field": "cl", "type": "quantitative"}, "x2": {"field": "cr"}, "y": {"field": "lo", "type": "quantitative"}}},
             {"mark": {"type": "text", "angle": 270, "align": "left", "baseline": "middle", "fontSize": 10.5, "color": "#000"},
              "encoding": {"x": {"field": "slot", "type": "quantitative"}, "y": {"datum": -0.98, "type": "quantitative"}, "text": {"field": "mean", "format": ".2f"}}}
           ]},
          {"data": {"name": "obs"},
           "transform": [
             {"filter": "datum.panel == 'C'"},
             {"joinaggregate": [{"op": "max", "field": "v", "as": "top"}], "groupby": ["age", "geno"]},
             {"filter": "isValid(datum.p)"},
             {"calculate": "indexof(['8 weeks old','12 weeks old'], datum.age) * 6 + indexof(['(+/+)','(+/-)','(-/-)'], datum.geno) * 2 + 1", "as": "s1"},
             {"calculate": "datum.s1 + 1", "as": "s2"},
             {"calculate": "datum.s1 + 0.5", "as": "sm"},
             {"calculate": "datum.top + 0.085", "as": "yb"},
             {"calculate": "datum.yb - 0.025", "as": "yt"}
           ],
           "layer": [
             {"mark": {"type": "rule", "strokeWidth": 1.6, "color": "#000"},
              "encoding": {"x": {"field": "s1", "type": "quantitative"}, "x2": {"field": "s2"}, "y": {"field": "yb", "type": "quantitative"}}},
             {"mark": {"type": "rule", "strokeWidth": 1.6, "color": "#000"},
              "encoding": {"x": {"field": "s1", "type": "quantitative"}, "y": {"field": "yb", "type": "quantitative"}, "y2": {"field": "yt"}}},
             {"mark": {"type": "rule", "strokeWidth": 1.6, "color": "#000"},
              "encoding": {"x": {"field": "s2", "type": "quantitative"}, "y": {"field": "yb", "type": "quantitative"}, "y2": {"field": "yt"}}},
             {"mark": {"type": "text", "fontSize": 13, "fontWeight": "bold", "align": "center", "baseline": "alphabetic", "dy": -3},
              "encoding": {"x": {"field": "sm", "type": "quantitative"}, "y": {"field": "yb", "type": "quantitative"}, "text": {"field": "p", "format": ".3f"},
                "color": {"condition": {"test": "datum.p < 0.05", "value": "#ff0000"}, "value": "#000"}}}
           ]},
          {"data": {"name": "summ"},
           "transform": [
             {"filter": "datum.panel == 'C'"},
             {"calculate": "indexof(['8 weeks old','12 weeks old'], datum.age) * 6 + indexof(['(+/+)','(+/-)','(-/-)'], datum.geno) * 2 + (datum.sub == 'Day3' || datum.sub == 'B' ? 2 : 1)", "as": "slot"},
             {"aggregate": [{"op": "min", "field": "slot", "as": "s0"}, {"op": "max", "field": "slot", "as": "s1"}], "groupby": ["age", "geno"]},
             {"calculate": "datum.s0 - 0.16", "as": "u0"},
             {"calculate": "datum.s1 + 0.16", "as": "u1"},
             {"calculate": "(datum.s0 + datum.s1) / 2", "as": "um"}
           ],
           "layer": [
             {"mark": {"type": "rule", "strokeWidth": 2.5, "color": "#000"},
              "encoding": {"x": {"field": "u0", "type": "quantitative"}, "x2": {"field": "u1"}, "y": {"datum": -1.215, "type": "quantitative"}}},
             {"mark": {"type": "text", "fontSize": 13, "fontWeight": "bold", "align": "center", "baseline": "middle", "color": "#000"},
              "encoding": {"x": {"field": "um", "type": "quantitative"}, "y": {"datum": -1.306, "type": "quantitative"}, "text": {"field": "geno"}}}
           ]},
          {"data": {"name": "summ"},
           "transform": [
             {"filter": "datum.panel == 'C'"},
             {"calculate": "indexof(['8 weeks old','12 weeks old'], datum.age) * 6 + indexof(['(+/+)','(+/-)','(-/-)'], datum.geno) * 2 + (datum.sub == 'Day3' || datum.sub == 'B' ? 2 : 1)", "as": "slot"},
             {"aggregate": [{"op": "min", "field": "slot", "as": "s0"}, {"op": "max", "field": "slot", "as": "s1"}], "groupby": ["age"]},
             {"calculate": "datum.s0 - 0.16", "as": "u0"},
             {"calculate": "datum.s1 + 0.16", "as": "u1"},
             {"calculate": "(datum.s0 + datum.s1) / 2", "as": "um"}
           ],
           "layer": [
             {"mark": {"type": "rule", "strokeWidth": 2.5, "color": "#000"},
              "encoding": {"x": {"field": "u0", "type": "quantitative"}, "x2": {"field": "u1"}, "y": {"datum": -1.38, "type": "quantitative"}}},
             {"mark": {"type": "text", "fontSize": 13, "fontWeight": "bold", "align": "center", "baseline": "middle", "color": "#000"},
              "encoding": {"x": {"field": "um", "type": "quantitative"}, "y": {"datum": -1.455, "type": "quantitative"}, "text": {"field": "age"}}}
           ]}
        ]
      }
    ]
  }
]
}
